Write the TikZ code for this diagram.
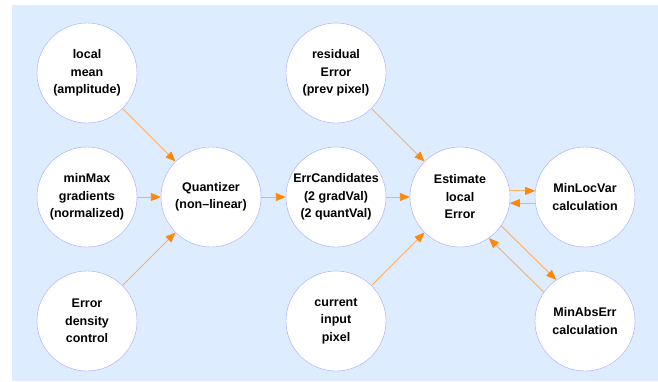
\documentclass[tikz,border=0pt]{standalone}
\usepackage{fontspec}
\setmainfont{Liberation Sans}
\usetikzlibrary{arrows.meta, positioning}
\definecolor{panel}{RGB}{221,236,255}
\definecolor{ring}{RGB}{165,165,255}
\definecolor{wire}{RGB}{255,175,95}
\definecolor{tip}{RGB}{255,135,10}
\tikzset{
  blob/.style={circle, draw=ring, fill=white, minimum size=100pt, inner sep=0pt,
    align=center, font=\fontsize{12.5}{17.5}\selectfont\bfseries},
  flow/.style={draw=wire, line width=0.9pt, -{Triangle[length=10pt,width=8pt,color=tip]}}
}

\begin{document}
\begin{tikzpicture}[x=1pt,y=-1pt]
\useasboundingbox (0,0) rectangle (658,381);
\fill [panel] (12,5) rectangle (658,381);
% inputs
\node (lmean) at (87,73) [blob] {local\\mean\\(amplitude)};
\node (minmax) at (87,197) [blob] {minMax\\gradients\\(normalized)};
\node (errdens) at (87,321) [blob] {Error\\density\\control};
\node (quant) at (211,197) [blob] {Quantizer\\(non--linear)};
\node (resid) at (336,73) [blob] {residual\\Error\\(prev pixel)};
\node (cand) at (336,197) [blob] {ErrCandidates\\(2 gradVal)\\(2 quantVal)};
\node (cur) at (336,321) [blob] {current\\input\\pixel};
% estimation
\node (est) at (460,197) [blob] {Estimate\\local\\Error};
\node (minvar) at (585,197) [blob] {MinLocVar\\calculation};
\node (minabs) at (585,321) [blob] {MinAbsErr\\calculation};
% connectors
\draw [flow] (lmean) -- (quant);
\draw [flow] (minmax) -- (quant);
\draw [flow] (errdens) -- (quant);
\draw [flow] (quant) -- (cand);
\draw [flow] (cand) -- (est);
\draw [flow] (resid) -- (est);
\draw [flow] (cur) -- (est);
\draw [flow] (est.7) -- (minvar.173);
\draw [flow] (minvar.-173) -- (est.-7);
\draw [flow] (est.-35) -- (minabs.125);
\draw [flow] (minabs.145) -- (est.-55);
\end{tikzpicture}
\end{document}
